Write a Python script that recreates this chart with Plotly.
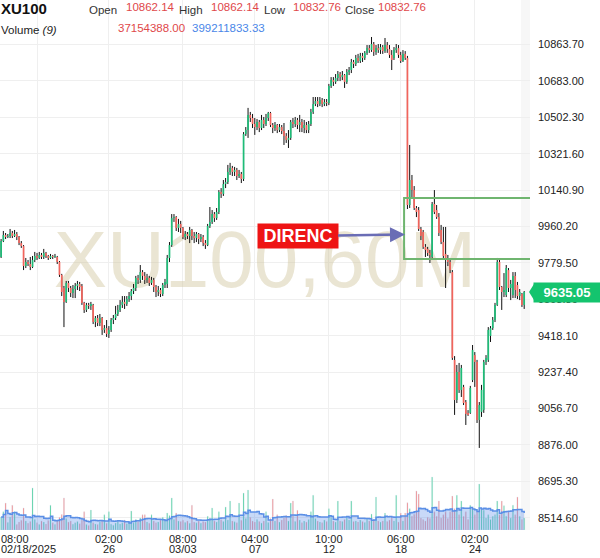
import plotly.graph_objects as go
import pandas as pd

# ---------------- data (hourly bars) ----------------
open_p = [9809, 9888, 9918, 9908, 9913, 9928, 9913, 9923, 9908, 9878,
          9863, 9764, 9784, 9774, 9759, 9794, 9814, 9804, 9819, 9809,
          9829, 9814, 9804, 9814, 9809, 9809, 9784, 9720, 9655, 9586,
          9680, 9655, 9630, 9650, 9665, 9675, 9665, 9581, 9546, 9571,
          9566, 9571, 9486, 9506, 9481, 9506, 9447, 9456, 9427, 9447,
          9496, 9506, 9526, 9546, 9571, 9586, 9576, 9600, 9615, 9640,
          9655, 9705, 9695, 9734, 9715, 9695, 9705, 9680, 9695, 9660,
          9635, 9645, 9625, 9670, 9675, 9804, 9868, 10002, 10007, 9953,
          9973, 9953, 9908, 9923, 9913, 9943, 9913, 9903, 9923, 9898,
          9908, 9878, 9868, 9963, 9983, 10022, 10002, 10032, 10132, 10122,
          10171, 10181, 10231, 10251, 10231, 10241, 10211, 10221, 10196, 10419,
          10439, 10514, 10499, 10469, 10454, 10479, 10449, 10489, 10469, 10499,
          10524, 10464, 10449, 10464, 10439, 10454, 10434, 10410, 10390, 10400,
          10479, 10469, 10489, 10464, 10479, 10449, 10464, 10439, 10469, 10529,
          10568, 10583, 10568, 10588, 10568, 10578, 10573, 10658, 10687, 10678,
          10697, 10717, 10702, 10712, 10678, 10727, 10737, 10777, 10767, 10797,
          10782, 10807, 10797, 10822, 10846, 10836, 10866, 10827, 10846, 10836,
          10851, 10831, 10861, 10841, 10812, 10797, 10836, 10846, 10812, 10782,
          10817, 10797, 10067, 10191, 10141, 10052, 10042, 9948, 9933, 9859,
          9849, 9829, 9809, 10072, 10042, 10007, 9943, 9883, 9824, 9804,
          9784, 9734, 9298, 9099, 9238, 9149, 9164, 9089, 9035, 9035,
          9198, 9322, 9288, 9000, 9040, 9050, 9288, 9298, 9417, 9456,
          9496, 9571, 9784, 9660, 9635, 9620, 9744, 9655, 9620, 9715,
          9670, 9615, 9625, 9571]
high_p = [9898, 9938, 9928, 9923, 9948, 9938, 9943, 9933, 9913, 9888,
          9868, 9804, 9794, 9809, 9814, 9834, 9829, 9834, 9829, 9849,
          9834, 9819, 9824, 9819, 9824, 9814, 9789, 9725, 9665, 9690,
          9690, 9665, 9670, 9680, 9690, 9685, 9675, 9586, 9581, 9581,
          9586, 9576, 9516, 9521, 9526, 9511, 9471, 9496, 9466, 9506,
          9521, 9566, 9571, 9595, 9615, 9615, 9615, 9635, 9650, 9675,
          9715, 9720, 9769, 9744, 9734, 9725, 9715, 9710, 9705, 9670,
          9665, 9655, 9680, 9700, 9819, 9883, 10022, 10022, 10012, 9998,
          9988, 9958, 9938, 9933, 9958, 9948, 9933, 9933, 9928, 9923,
          9918, 9893, 9973, 10057, 10042, 10032, 10052, 10141, 10151, 10191,
          10201, 10266, 10276, 10261, 10256, 10251, 10241, 10231, 10429, 10454,
          10549, 10529, 10519, 10499, 10494, 10489, 10514, 10504, 10519, 10529,
          10529, 10474, 10479, 10469, 10469, 10464, 10474, 10424, 10439, 10489,
          10499, 10504, 10499, 10514, 10494, 10489, 10479, 10484, 10544, 10603,
          10603, 10603, 10603, 10598, 10593, 10593, 10668, 10702, 10702, 10717,
          10732, 10727, 10732, 10717, 10742, 10752, 10792, 10787, 10812, 10817,
          10822, 10822, 10831, 10861, 10861, 10901, 10876, 10861, 10866, 10866,
          10861, 10896, 10876, 10861, 10836, 10851, 10866, 10861, 10827, 10836,
          10831, 10807, 10365, 10216, 10161, 10062, 10057, 9958, 9943, 9873,
          9859, 9844, 10082, 10141, 10067, 10027, 9968, 9958, 9958, 9819,
          9799, 9744, 9317, 9273, 9283, 9273, 9174, 9099, 9049, 9169,
          9372, 9337, 9298, 9089, 9174, 9298, 9322, 9461, 9466, 9511,
          9581, 9804, 9794, 9665, 9729, 9769, 9754, 9695, 9734, 9734,
          9685, 9650, 9630, 9640]
low_p = [9804, 9883, 9898, 9903, 9903, 9903, 9908, 9893, 9868, 9854,
         9744, 9754, 9764, 9744, 9754, 9784, 9794, 9799, 9799, 9799,
         9804, 9794, 9799, 9799, 9804, 9774, 9710, 9615, 9461, 9581,
         9635, 9610, 9605, 9605, 9645, 9640, 9571, 9531, 9536, 9551,
         9546, 9476, 9461, 9466, 9466, 9422, 9432, 9412, 9407, 9437,
         9476, 9496, 9516, 9536, 9556, 9551, 9566, 9586, 9595, 9625,
         9640, 9675, 9680, 9695, 9675, 9680, 9665, 9670, 9635, 9610,
         9615, 9610, 9615, 9655, 9655, 9784, 9859, 9983, 9938, 9933,
         9928, 9898, 9893, 9898, 9878, 9893, 9878, 9883, 9873, 9883,
         9863, 9849, 9863, 9953, 9973, 9983, 9993, 10022, 10102, 10112,
         10151, 10171, 10216, 10211, 10211, 10191, 10201, 10176, 10186, 10410,
         10400, 10479, 10449, 10415, 10439, 10429, 10439, 10449, 10459, 10484,
         10454, 10424, 10434, 10424, 10429, 10419, 10365, 10375, 10350, 10390,
         10449, 10454, 10444, 10429, 10429, 10424, 10424, 10424, 10459, 10519,
         10558, 10553, 10558, 10553, 10558, 10558, 10563, 10648, 10658, 10668,
         10682, 10682, 10687, 10648, 10668, 10712, 10722, 10747, 10757, 10772,
         10772, 10777, 10787, 10812, 10822, 10827, 10807, 10812, 10822, 10817,
         10817, 10822, 10822, 10797, 10737, 10787, 10822, 10797, 10772, 10777,
         10787, 10047, 10052, 10102, 10042, 10007, 9938, 9893, 9849, 9809,
         9814, 9779, 9794, 10022, 9998, 9913, 9873, 9804, 9655, 9764,
         9729, 9298, 9025, 9084, 9134, 9114, 9074, 8975, 9020, 9030,
         9188, 9164, 8985, 8861, 9015, 9035, 9273, 9288, 9387, 9447,
         9486, 9566, 9645, 9546, 9610, 9610, 9635, 9595, 9605, 9605,
         9600, 9595, 9561, 9551]
close_p = [9888, 9918, 9908, 9913, 9928, 9913, 9923, 9908, 9878, 9863,
           9764, 9784, 9774, 9759, 9794, 9814, 9804, 9819, 9809, 9829,
           9814, 9804, 9814, 9809, 9814, 9784, 9720, 9635, 9586, 9680,
           9655, 9630, 9650, 9665, 9675, 9660, 9581, 9546, 9571, 9566,
           9576, 9486, 9506, 9481, 9506, 9447, 9456, 9427, 9447, 9496,
           9506, 9526, 9546, 9571, 9586, 9576, 9600, 9615, 9640, 9655,
           9705, 9695, 9734, 9715, 9695, 9705, 9680, 9695, 9660, 9635,
           9645, 9625, 9670, 9685, 9804, 9868, 10002, 10007, 9953, 9973,
           9953, 9908, 9923, 9913, 9943, 9913, 9903, 9923, 9898, 9908,
           9878, 9868, 9963, 9983, 10022, 10002, 10032, 10132, 10122, 10171,
           10181, 10231, 10251, 10231, 10241, 10211, 10221, 10196, 10419, 10439,
           10514, 10499, 10469, 10454, 10479, 10449, 10489, 10469, 10499, 10524,
           10464, 10449, 10464, 10439, 10454, 10434, 10410, 10390, 10400, 10479,
           10469, 10489, 10464, 10479, 10449, 10464, 10439, 10469, 10529, 10568,
           10583, 10568, 10588, 10568, 10578, 10573, 10658, 10687, 10678, 10697,
           10717, 10702, 10712, 10678, 10727, 10737, 10777, 10767, 10797, 10782,
           10807, 10797, 10822, 10846, 10836, 10866, 10827, 10846, 10836, 10851,
           10831, 10861, 10841, 10812, 10787, 10836, 10846, 10812, 10782, 10817,
           10797, 10067, 10191, 10141, 10052, 10032, 9948, 9913, 9859, 9844,
           9829, 9819, 10072, 10032, 10007, 9928, 9883, 9814, 9804, 9784,
           9744, 9308, 9099, 9238, 9149, 9258, 9084, 9030, 9025, 9159,
           9347, 9288, 9000, 9074, 9149, 9288, 9308, 9447, 9456, 9496,
           9571, 9784, 9660, 9635, 9645, 9754, 9655, 9675, 9715, 9645,
           9615, 9635, 9571, 9635.05]
volume_m = [430, 600, 890, 250, 430, 820, 600, 180, 260, 320,
            730, 300, 220, 280, 1390, 350, 240, 180, 300, 260,
            200, 310, 820, 240, 180, 330, 420, 510, 1060, 380,
            260, 300, 190, 240, 280, 210, 330, 600, 180, 150,
            660, 240, 200, 180, 260, 300, 500, 220, 600, 190,
            160, 230, 280, 200, 240, 330, 210, 260, 630, 240,
            350, 280, 400, 500, 500, 260, 220, 500, 300, 240,
            260, 330, 420, 300, 560, 480, 1060, 350, 560, 300,
            280, 320, 250, 300, 220, 820, 260, 240, 300, 220,
            280, 260, 450, 380, 730, 300, 260, 600, 340, 280,
            760, 330, 960, 300, 270, 240, 890, 320, 1220, 380,
            1320, 420, 300, 260, 350, 280, 230, 300, 600, 250,
            380, 1020, 300, 500, 260, 330, 400, 480, 300, 890,
            960, 280, 650, 330, 240, 300, 260, 350, 600, 1150,
            380, 300, 260, 240, 330, 280, 700, 420, 300, 260,
            960, 300, 280, 350, 420, 330, 960, 280, 300, 260,
            330, 280, 250, 400, 300, 530, 350, 1090, 300, 260,
            300, 560, 280, 330, 400, 300, 1150, 260, 560, 300,
            560, 900, 700, 450, 520, 1290, 1190, 400, 350, 300,
            420, 380, 1750, 600, 450, 960, 400, 500, 600, 380,
            600, 1120, 700, 1150, 500, 960, 450, 600, 350, 820,
            700, 500, 600, 1520, 700, 650, 400, 500, 350, 450,
            500, 960, 500, 960, 800, 450, 600, 400, 820, 500,
            1090, 450, 350, 400]

tick_bars = [16, 48, 81, 113, 146, 178, 211]
tick_time = ["08:00", "02:00", "08:00", "04:00", "10:00", "06:00", "02:00"]
tick_date = ["02/18/2025", "26", "03/03", "07", "12", "18", "24"]
price_ticks = [10863.70, 10683.00, 10502.30, 10321.60, 10140.90, 9960.20, 9779.50,
               9598.80, 9418.10, 9237.40, 9056.70, 8876.00, 8695.30, 8514.60]

zone_top, zone_bottom, zone_start = 10101.7, 9798.9, 179.5
symbol = "XU100"
watermark = "XU100,60M"
label_text = "DIRENC"
hdr_open, hdr_high, hdr_low, hdr_close = "10862.14", "10862.14", "10832.76", "10832.76"
hdr_vol, hdr_vol_ma = "37154388.00", "399211833.33"

# ---------------- geometry ----------------
W, H = 600, 558
ML, MR, MT, MB = 0, 70, 0, 28
PW, PH = W - ML - MR, H - MT - MB
BAR_PX = 2.245
X0 = -0.49
X1 = X0 + PW / BAR_PX
Y_LO, Y_HI = 8453.7, 11084.6
VOL_MAX = PH * 33

def px(x):
    return x / PW

def py(y):
    return 1 - y / PH

GREEN = "#1dbd78"
RED = "#f2645c"
FONT = "Liberation Sans, Arial, sans-serif"

n = len(close_p)
idx = list(range(n))

fig = go.Figure()

# watermark (drawn first, under the candles)
fig.add_trace(go.Scatter(
    x=[117.5], y=[9760], mode="text", text=[watermark],
    textfont=dict(family=FONT, size=80, color="rgba(205,192,150,0.42)"),
    hoverinfo="skip", showlegend=False))

# wicks
wx, wy = [], []
for i in idx:
    wx += [i, i, None]
    wy += [low_p[i], high_p[i], None]
fig.add_trace(go.Scatter(x=wx, y=wy, mode="lines",
                         line=dict(color="#111111", width=1),
                         hoverinfo="skip", showlegend=False))

# bodies
for up, col in ((True, GREEN), (False, RED)):
    bx, by = [], []
    for i in idx:
        o, c = open_p[i], close_p[i]
        if (c >= o) != up:
            continue
        lo, hi = min(o, c), max(o, c)
        if hi - lo < 5:
            m = (hi + lo) / 2
            lo, hi = m - 2.5, m + 2.5
        bx += [i, i, None]
        by += [lo, hi, None]
    fig.add_trace(go.Scatter(x=bx, y=by, mode="lines",
                             line=dict(color=col, width=1.7),
                             hoverinfo="skip", showlegend=False))

# volume
vcol = ["#10c27a" if close_p[i] >= open_p[i] else "#f05a5a" for i in idx]
fig.add_trace(go.Bar(x=idx, y=volume_m, marker_color=vcol, width=0.45,
                     yaxis="y2", hoverinfo="skip", showlegend=False))
vol_ma = pd.Series(volume_m).rolling(9, min_periods=1).mean()
fig.add_trace(go.Scatter(x=idx, y=vol_ma, mode="lines", yaxis="y2",
                         line=dict(color="#5b8fe6", width=1.5, shape="hv"),
                         fill="tozeroy", fillcolor="rgba(88,140,235,0.33)",
                         hoverinfo="skip", showlegend=False))

annotations = []

def txt(x, y, text, color="#333333", size=11.5, bold=False, anchor="left"):
    annotations.append(dict(
        x=px(x), y=py(y), xref="paper", yref="paper", text=f"<b>{text}</b>" if bold else text,
        showarrow=False, xanchor=anchor, yanchor="middle",
        font=dict(family=FONT, size=size, color=color)))

# header
txt(-1, 8.5, symbol, "#111111", 15, True)
txt(87, 9.5, "Open")
txt(124, 6.5, hdr_open, "#e0484a")
txt(177, 9.5, "High")
txt(209, 6.5, hdr_high, "#e0484a")
txt(262, 9.5, "Low")
txt(291, 6.5, hdr_low, "#e0484a")
txt(343, 9.5, "Close")
txt(376, 6.5, hdr_close, "#e0484a")
txt(-1, 30, "Volume <i>(9)</i>", "#222222", 11.5)
txt(116, 27.5, hdr_vol, "#e0484a")
txt(190, 27.5, hdr_vol_ma, "#4a86e8")

# x labels
for k, (b, t, d) in enumerate(zip(tick_bars, tick_time, tick_date)):
    xpix = 1.1 + BAR_PX * b
    if k == 0:
        txt(-1, 538.5, t, "#222222", 11)
        txt(-1, 548.5, d, "#222222", 11)
    else:
        txt(xpix, 538.5, t, "#222222", 11, anchor="center")
        txt(xpix, 548.5, d, "#222222", 11, anchor="center")

# DIRENC label with arrow to the zone
annotations.append(dict(
    x=px(405), y=py(234.5), xref="paper", yref="paper",
    text=f"<b>{label_text}</b>", showarrow=True,
    ax=-(405 - 297.5), ay=1.5, axref="pixel", ayref="pixel",
    arrowhead=2, arrowsize=1.2, arrowwidth=2.5, arrowcolor="#6a6db5",
    bgcolor="#ee1414", borderpad=0, width=80, height=24,
    font=dict(family=FONT, size=18, color="white")))

# last price tag
annotations.append(dict(
    x=px(533), y=close_p[-1], xref="paper", yref="y",
    text=f"<b>{close_p[-1]:.2f}</b>", showarrow=False,
    xanchor="left", yanchor="middle", bgcolor="#14c46e",
    width=66, height=19, borderpad=0,
    font=dict(family=FONT, size=13, color="white")))

shapes = [
    dict(type="rect", xref="paper", yref="paper", x0=px(521), x1=1, y0=0, y1=1,
         fillcolor="#f7f7f7", line=dict(width=0), layer="below"),
    dict(type="rect", xref="x", yref="y", x0=zone_start, x1=X1 + 20,
         y0=zone_bottom, y1=zone_top, line=dict(color="#6fb56f", width=2)),
    dict(type="path", xref="paper", yref="y",
         path=f"M {px(529)},{close_p[-1]} L {px(534)},{close_p[-1]+40} L {px(534)},{close_p[-1]-40} Z",
         fillcolor="#14c46e", line=dict(width=0)),
]

fig.update_layout(
    width=W, height=H, margin=dict(l=ML, r=MR, t=MT, b=MB, autoexpand=False),
    paper_bgcolor="white", plot_bgcolor="white",
    showlegend=False, hovermode=False, barmode="overlay",
    xaxis=dict(range=[X0, X1], tickvals=tick_bars, showticklabels=False,
               showgrid=True, gridcolor="#efefef", gridwidth=1, zeroline=False,
               showline=False, ticks="", fixedrange=True),
    yaxis=dict(range=[Y_LO, Y_HI], side="right", tickvals=price_ticks,
               tickformat=".2f", showgrid=True, gridcolor="#efefef", zeroline=False,
               showline=False, ticks="", ticklabelstandoff=7,
               tickfont=dict(family=FONT, size=11, color="#222222"), fixedrange=True),
    yaxis2=dict(range=[0, VOL_MAX], overlaying="y", visible=False, fixedrange=True),
    annotations=annotations, shapes=shapes,
)

fig.write_html("out.html", config={"displayModeBar": False},
               post_script="document.body.style.margin='0';document.body.style.overflow='hidden';")
